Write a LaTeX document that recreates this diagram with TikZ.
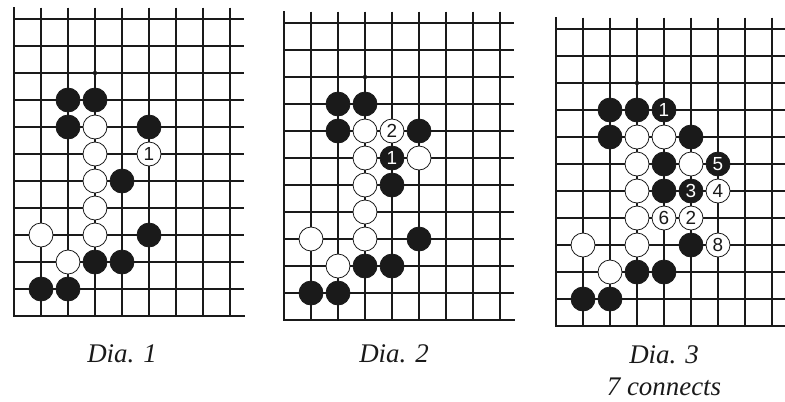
\documentclass[tikz,border=0pt]{standalone}
\usepackage{fontspec}
\setmainfont{Liberation Serif}
\newfontfamily\numfont{Liberation Sans}
\usepackage{tikz}
\usetikzlibrary{positioning}
\usepackage{xcolor}
\definecolor{goInk}  {HTML}{1A1A1A}
\definecolor{goPaper}{HTML}{FFFFFF}
\tikzset{
  gridline/.style = {line width=1.1bp, color=goInk},
  edgeline/.style = {line width=2.2bp, color=goInk, line cap=rect},
  bstone/.style   = {circle, draw=goInk, fill=goInk, line width=0.8bp,
                     minimum size=24bp, inner sep=0pt, text=goPaper,
                     font=\numfont\fontsize{19}{19}\selectfont},
  wstone/.style   = {circle, draw=goInk, fill=goPaper, line width=0.8bp,
                     minimum size=24bp, inner sep=0pt, text=goInk,
                     font=\numfont\fontsize{19}{19}\selectfont},
  hoshi/.style    = {circle, fill=goInk, inner sep=0pt, minimum size=4.5bp},
  caption/.style  = {anchor=base, inner sep=0pt, text=goInk,
                     font=\itshape\fontsize{27}{27}\selectfont},
  board/.style    = {x=27bp, y=-27bp},
}

\begin{document}
\begin{tikzpicture}[x=1bp, y=-1bp]

  \useasboundingbox (0,0) rectangle (785,401);

  % ---- Dia. 1 ----
  \begin{scope}[shift={(14,19)}, board]
    \foreach \c in {1,...,8} \draw[gridline] (\c,-0.42) -- (\c,11);
    \foreach \r in {0,...,10} \draw[gridline] (0,\r) -- (8.5,\r);
    \draw[edgeline] (0,-0.42) -- (0,11) -- (8.5,11);
    \node[hoshi] (d1star) at (3,2) {};
    \foreach \c/\r in {2/3,3/3,2/4,5/4,4/6,5/8,3/9,4/9,1/10,2/10}
      \node[bstone] (d1b\c\r) at (\c,\r) {};
    \foreach \c/\r in {3/4,3/5,3/6,3/7,1/8,3/8,2/9}
      \node[wstone] (d1w\c\r) at (\c,\r) {};
    \node[wstone] (d1w55) at (5,5) {1};
  \end{scope}

  % ---- Dia. 2 ----
  \begin{scope}[shift={(284,23)}, board]
    \foreach \c in {1,...,8} \draw[gridline] (\c,-0.42) -- (\c,11);
    \foreach \r in {0,...,10} \draw[gridline] (0,\r) -- (8.5,\r);
    \draw[edgeline] (0,-0.42) -- (0,11) -- (8.5,11);
    \node[hoshi] (d2star) at (3,2) {};
    \foreach \c/\r in {2/3,3/3,2/4,5/4,4/6,5/8,3/9,4/9,1/10,2/10}
      \node[bstone] (d2b\c\r) at (\c,\r) {};
    \foreach \c/\r in {3/4,3/5,5/5,3/6,3/7,1/8,3/8,2/9}
      \node[wstone] (d2w\c\r) at (\c,\r) {};
    \node[bstone] (d2b45) at (4,5) {1};
    \node[wstone] (d2w44) at (4,4) {2};
  \end{scope}

  % ---- Dia. 3 ----
  \begin{scope}[shift={(556,29)}, board]
    \foreach \c in {1,...,8} \draw[gridline] (\c,-0.42) -- (\c,11);
    \foreach \r in {0,...,10} \draw[gridline] (0,\r) -- (8.5,\r);
    \draw[edgeline] (0,-0.42) -- (0,11) -- (8.5,11);
    \node[hoshi] (d3star) at (3,2) {};
    \foreach \c/\r in {2/3,3/3,2/4,5/4,4/5,4/6,5/8,3/9,4/9,1/10,2/10}
      \node[bstone] (d3b\c\r) at (\c,\r) {};
    \foreach \c/\r in {3/4,4/4,3/5,5/5,3/6,3/7,1/8,3/8,2/9}
      \node[wstone] (d3w\c\r) at (\c,\r) {};
    % numbered moves
    \foreach \c/\r/\n in {4/3/1,5/6/3,6/5/5}
      \node[bstone] (d3b\c\r) at (\c,\r) {\n};
    \foreach \c/\r/\n in {5/7/2,6/6/4,4/7/6,6/8/8}
      \node[wstone] (d3w\c\r) at (\c,\r) {\n};
  \end{scope}

  % ---- Captions ----
  \node[caption] (cap1) at (122,362) {Dia. 1};
  \node[caption] (cap2) at (394,362) {Dia. 2};
  \node[caption] (cap3) at (664,363) {Dia. 3};
  \node[caption] (note3) at ([yshift=-32bp]cap3.base) {7 connects};

\end{tikzpicture}
\end{document}
